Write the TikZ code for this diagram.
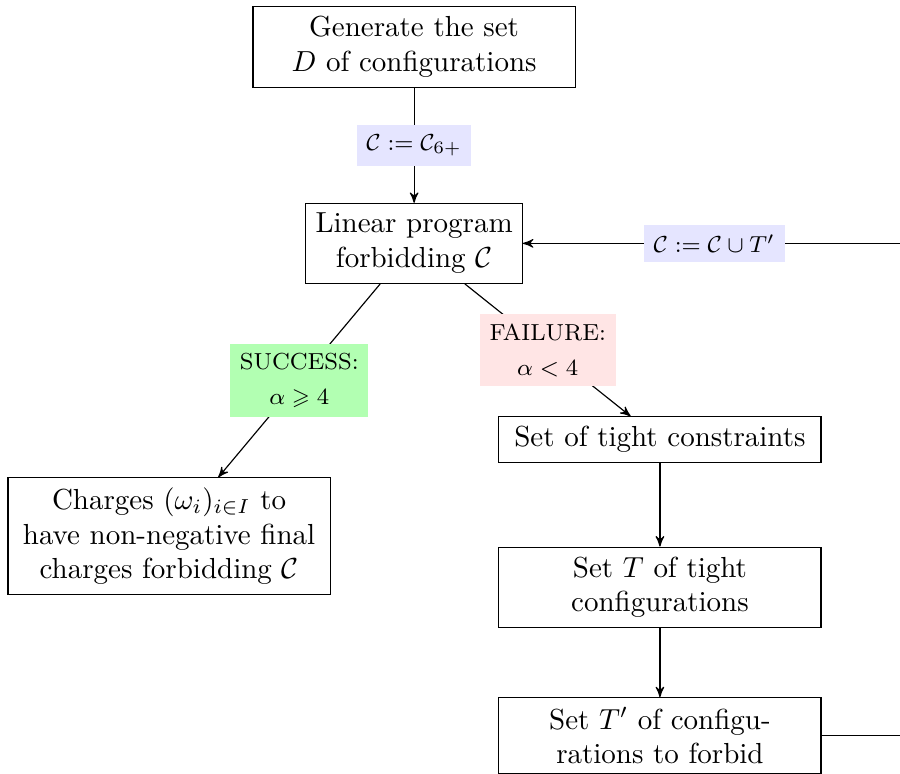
\documentclass[tikz,border=0pt]{standalone}
\usepackage{amsmath}
\usepackage{amssymb}
\usetikzlibrary{arrows,positioning}

\begin{document}
\begin{tikzpicture}[->,>=stealth',node distance=2.38cm,stage/.style={draw=black,rectangle,text width=3.67cm,align=center},cond/.style={font=\fontsize{8}{12}\selectfont,align=center}]
	\useasboundingbox (-5.02,0.57) rectangle (5.89,-8.81);
	\node[stage]				(gen)										{Generate the set\\ $D$ of configurations};
	\node[draw=black,align=center]	(lp)		[below of=gen]						{Linear program\\ forbidding $\mathcal{C}$};
	\node[stage]				(tight)		[below of=lp,xshift=2.98cm]			{Set of tight constraints};
	\node[stage]				(charges)	[below of=lp,xshift=-2.97cm,yshift=-1.17cm]	{Charges $(\omega_i)_{i\in I}$ to\\ have non-negative final\\ charges forbidding $\mathcal{C}$};
	\node[stage]				(setT)		[below of=tight,node distance=1.79cm]	{Set $T$ of tight\\ configurations};
	\node[stage]				(setTp)		[below of=setT,node distance=1.8cm]	{Set $T'$ of configu-\\ rations to forbid};
	\path (setTp.east) ++(1.02cm,0) coordinate (turn);

	\path
		(gen)	edge	node[cond,fill=blue!10]		{$\mathcal{C} := \mathcal{C}_{6+}$}		(lp)
		(lp)	edge	node[cond,fill=green!30]	{SUCCESS:\\ $\alpha \geqslant 4$}		(charges)
		(lp)	edge	node[cond,fill=red!10]		{FAILURE:\\ $\alpha < 4$}			(tight)
		(tight)	edge									(setT)
		(setT)	edge									(setTp)
	;
	\draw (setTp.east) -- (turn) |- node[cond,fill=blue!10,pos=0.75] {$\mathcal{C} := \mathcal{C} \cup T'$} (lp);
\end{tikzpicture}
\end{document}
